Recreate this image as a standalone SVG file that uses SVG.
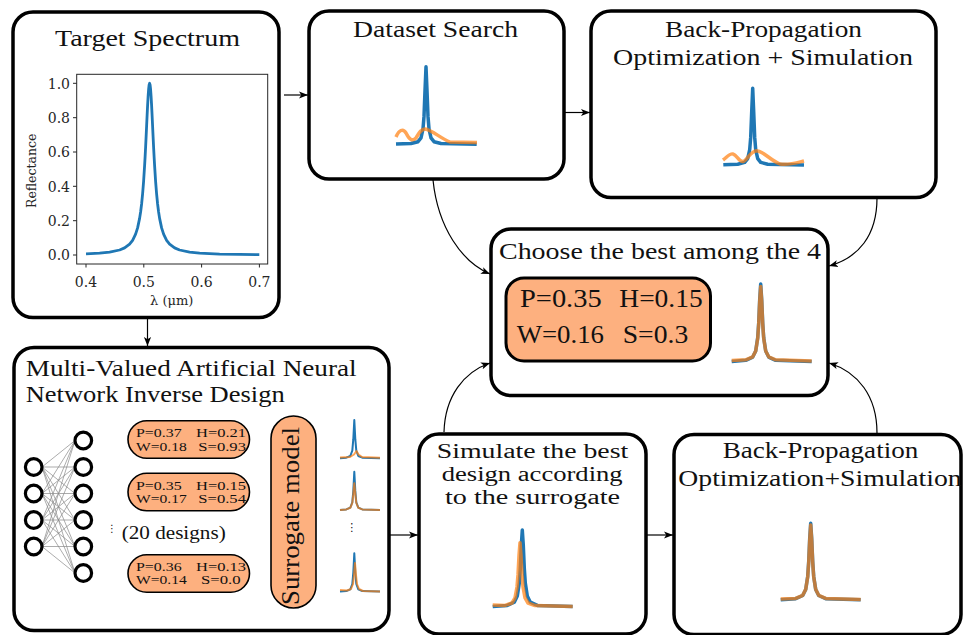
<svg xmlns="http://www.w3.org/2000/svg" width="964" height="635" viewBox="0 0 964 635">
<defs>
<marker id="ah" viewBox="0 0 10 10" refX="10" refY="5" markerWidth="9" markerHeight="9" markerUnits="userSpaceOnUse" orient="auto">
<path d="M0,1 L10,5 L0,9 L2.5,5 z" fill="#000"/>
</marker>
<style>
.box{fill:#fff;stroke:#000;stroke-width:3.5}
.pill{fill:#fdb07f;stroke:#000;stroke-width:1.6}
.t{fill:#111}
.tt{font-size:24px}
.pt{font-size:12px}
.tick{fill:#262626;font-size:14px}
.b{fill:none;stroke:#1f77b4;stroke-width:3.5;stroke-linejoin:round}
.o{fill:none;stroke:#ff7f0e;stroke-opacity:0.7;stroke-width:3.5;stroke-linejoin:round}
.bs{fill:none;stroke:#1f77b4;stroke-width:2;stroke-linejoin:round}
.os{fill:none;stroke:#ff7f0e;stroke-opacity:0.7;stroke-width:2;stroke-linejoin:round}
.c{fill:none;stroke:#000;stroke-width:1.2;marker-end:url(#ah)}
.nn{fill:#fff;stroke:#000;stroke-width:3.2}
</style>
</defs>
<rect width="964" height="635" fill="#fff"/>

<g id="connectors">
<path class="c" d="M284,95 L308,95"/>
<path class="c" d="M565,112.5 L590,112.5"/>
<path class="c" d="M147.5,318 L147.5,346"/>
<path class="c" d="M433,180 C438,228 462,262 490,274"/>
<path class="c" d="M877,198 C877,236 858,258 829,266"/>
<path class="c" d="M444,432 C445,396 464,372 490,363"/>
<path class="c" d="M877,433 C877,396 858,372 829,363"/>
<path class="c" d="M390,535 L418,535"/>
<path class="c" d="M647,535 L673,535"/>
<path class="c" d="M100,440 L127,440"/>
<path class="c" d="M100,492 L127,492"/>
<path class="c" d="M100,573.5 L127,573.5"/>
<path class="c" d="M250,439.5 L270,439.5"/>
<path class="c" d="M250,492 L270,492"/>
<path class="c" d="M250,573.5 L270,573.5"/>
<path class="c" d="M317,439.5 L337,439.5"/>
<path class="c" d="M317,492 L337,492"/>
<path class="c" d="M317,573.5 L337,573.5"/>
</g>

<g id="target-spectrum">
<rect class="box" x="13" y="12" width="266" height="305.5" rx="20"/>
<text class="t tt" font-family="Liberation Serif, Times New Roman, serif" x="55" y="46" textLength="185" lengthAdjust="spacingAndGlyphs">Target Spectrum</text>
<rect x="76.7" y="74.3" width="191" height="189.7" fill="none" stroke="#262626" stroke-width="1"/>
<path d="M73,255H76.7M73,220.7H76.7M73,186.3H76.7M73,152H76.7M73,117.7H76.7M73,83.3H76.7M86,264V267.5M143.8,264V267.5M201.6,264V267.5M259.4,264V267.5" stroke="#262626" stroke-width="1"/>
<g class="tick" font-family="DejaVu Serif, serif" text-anchor="end">
<text x="70" y="260.3">0.0</text>
<text x="70" y="226">0.2</text>
<text x="70" y="191.6">0.4</text>
<text x="70" y="157.3">0.6</text>
<text x="70" y="123">0.8</text>
<text x="70" y="88.6">1.0</text>
</g>
<g class="tick" font-family="DejaVu Serif, serif" text-anchor="middle">
<text x="86" y="286.7">0.4</text>
<text x="143.8" y="286.7">0.5</text>
<text x="201.6" y="286.7">0.6</text>
<text x="259.4" y="286.7">0.7</text>
</g>
<text class="tick" font-family="DejaVu Serif, serif" style="font-size:12.5px" text-anchor="middle" transform="translate(36,170.8) rotate(-90)">Reflectance</text>
<text class="tick" font-family="DejaVu Serif, serif" style="font-size:13px" text-anchor="middle" x="171.7" y="305">λ (μm)</text>
<path d="M86,253.9 L99.6,253.2 L109.6,252.1 L119.6,250 L124.6,247.9 L129.6,244.1 L132.6,240.3 L135.6,234.2 L137.6,227.9 L139.6,218.4 L140.6,212 L141.6,204 L142.6,193.9 L143.6,181.3 L144.6,165.7 L145.1,156.8 L145.6,147.2 L146.1,136.9 L146.6,126.2 L147.1,115.5 L147.6,105.4 L148.1,96.5 L148.6,89.5 L149.1,84.9 L149.6,83.3 L150.1,84.9 L150.6,89.5 L151.1,96.5 L151.6,105.4 L152.1,115.5 L152.6,126.2 L153.1,136.9 L153.6,147.2 L154.1,156.8 L154.6,165.7 L155.6,181.3 L156.6,193.9 L157.6,204 L158.6,212 L159.6,218.4 L161.6,227.9 L163.6,234.2 L166.6,240.3 L169.6,244.1 L174.6,247.9 L179.6,250 L189.6,252.1 L199.6,253.2 L219.6,254.1 L239.6,254.4 L259.3,254.6" fill="none" stroke="#1f77b4" stroke-width="2.8" stroke-linejoin="round"/>
</g>

<g id="dataset-search">
<rect class="box" x="309" y="11" width="255" height="168" rx="20"/>
<text class="t tt" font-family="Liberation Serif, Times New Roman, serif" x="353" y="36.7" textLength="165" lengthAdjust="spacingAndGlyphs">Dataset Search</text>
<path class="b" d="M396,144.1 L411,143.5 L418,141.7 L421,137.9 L423,128.8 L424,116.4 L425,90.6 L426,66.7 L427,90.6 L428,116.4 L429,128.8 L431,137.9 L434,141.7 L441,143.5 L476.7,144.2"/>
<path class="o" d="M396,137 C399,130 403,128 406,133 C409,139 412,142 416,138 C419,133 421,129 425,129 C432,130 440,138 450,142 L477,142.5"/>
</g>

<g id="backprop-top">
<rect class="box" x="591" y="11" width="345" height="186.5" rx="20"/>
<text class="t tt" font-family="Liberation Serif, Times New Roman, serif" x="665" y="37" textLength="197" lengthAdjust="spacingAndGlyphs">Back-Propagation</text>
<text class="t tt" font-family="Liberation Serif, Times New Roman, serif" x="613" y="65" textLength="300" lengthAdjust="spacingAndGlyphs">Optimization + Simulation</text>
<path class="b" d="M723.3,164.8 L737.7,164.2 L744.7,162.4 L747.7,158.6 L749.7,149.7 L750.7,137.4 L751.7,111.9 L752.7,88.3 L753.7,111.9 L754.7,137.4 L755.7,149.7 L757.7,158.6 L760.7,162.4 L767.7,164.2 L804,164.9"/>
<path class="o" d="M723,160 C727,157 730,153 733,154 C737,155 739,162 743,161.5 C747,161 750,151 756.7,150.7 C763,151 770,160 780,164 C788,165.5 796,163 804,161"/>
</g>

<g id="choose-best">
<rect class="box" x="491" y="229" width="337" height="166.5" rx="20"/>
<text class="t tt" font-family="Liberation Serif, Times New Roman, serif" x="499" y="259.3" textLength="322" lengthAdjust="spacingAndGlyphs">Choose the best among the 4</text>
<rect x="506" y="278" width="204.5" height="83" rx="18" fill="#fdb07f" stroke="#000" stroke-width="3"/>
<g class="t" font-family="Liberation Serif, Times New Roman, serif" style="font-size:25px">
<text x="520" y="307.3" textLength="81.7" lengthAdjust="spacingAndGlyphs">P=0.35</text>
<text x="619.3" y="307.3" textLength="83.4" lengthAdjust="spacingAndGlyphs">H=0.15</text>
<text x="516.7" y="342.7" textLength="87.3" lengthAdjust="spacingAndGlyphs">W=0.16</text>
<text x="622.7" y="342.7" textLength="65.6" lengthAdjust="spacingAndGlyphs">S=0.3</text>
</g>
<path class="b" d="M731.7,361.5 L745.7,360.3 L752.7,357.1 L755.7,351 L757.7,337.8 L758.7,322.9 L759.7,299.5 L760.7,284 L761.7,299.5 L762.7,322.9 L763.7,337.8 L765.7,351 L768.7,357.1 L775.7,360.3 L811.7,361.5"/>
<path class="o" d="M731.7,360.5 L745.7,359.8 L752.7,356.8 L755.7,351 L757.7,338.5 L758.7,324 L759.7,301 L760.7,286.5 L761.7,301 L762.7,324 L763.7,338.5 L765.7,351 L768.7,356.8 L775.7,359.8 L811.7,361"/>
</g>

<g id="ann-inverse-design">
<rect class="box" x="14" y="347.5" width="375" height="283" rx="20"/>
<text class="t tt" font-family="Liberation Serif, Times New Roman, serif" x="25.7" y="375.5" textLength="331" lengthAdjust="spacingAndGlyphs">Multi-Valued Artificial Neural</text>
<text class="t tt" font-family="Liberation Serif, Times New Roman, serif" x="25.7" y="402.4" textLength="259" lengthAdjust="spacingAndGlyphs">Network Inverse Design</text>
<path fill="none" stroke="#888" stroke-width="0.7" d="M42,467L75,440.5M42,467L75,467M42,467L75,493.5M42,467L75,520M42,467L75,546.5M42,467L75,573M42,493.5L75,440.5M42,493.5L75,467M42,493.5L75,493.5M42,493.5L75,520M42,493.5L75,546.5M42,493.5L75,573M42,520L75,440.5M42,520L75,467M42,520L75,493.5M42,520L75,520M42,520L75,546.5M42,520L75,573M42,546.5L75,440.5M42,546.5L75,467M42,546.5L75,493.5M42,546.5L75,520M42,546.5L75,546.5M42,546.5L75,573"/>
<g class="nn">
<circle cx="33.7" cy="467" r="8.3"/>
<circle cx="33.7" cy="493.5" r="8.3"/>
<circle cx="33.7" cy="520" r="8.3"/>
<circle cx="33.7" cy="546.5" r="8.3"/>
<circle cx="83.3" cy="440.5" r="8.3"/>
<circle cx="83.3" cy="467" r="8.3"/>
<circle cx="83.3" cy="493.5" r="8.3"/>
<circle cx="83.3" cy="520" r="8.3"/>
<circle cx="83.3" cy="546.5" r="8.3"/>
<circle cx="83.3" cy="573" r="8.3"/>
</g>
<rect class="pill" x="128" y="420.7" width="121.5" height="37.6" rx="18.8"/>
<rect class="pill" x="128" y="473.3" width="121.5" height="37.5" rx="18.75"/>
<rect class="pill" x="128" y="554.8" width="121.5" height="37.5" rx="18.75"/>
<g class="t pt" font-family="Liberation Serif, Times New Roman, serif">
<text x="136" y="437" textLength="45.7" lengthAdjust="spacingAndGlyphs">P=0.37</text>
<text x="196" y="437" textLength="50" lengthAdjust="spacingAndGlyphs">H=0.21</text>
<text x="136" y="450.5" textLength="50.7" lengthAdjust="spacingAndGlyphs">W=0.18</text>
<text x="198.3" y="450.5" textLength="47.7" lengthAdjust="spacingAndGlyphs">S=0.93</text>
<text x="136" y="489.5" textLength="45.7" lengthAdjust="spacingAndGlyphs">P=0.35</text>
<text x="196" y="489.5" textLength="50" lengthAdjust="spacingAndGlyphs">H=0.15</text>
<text x="136" y="503" textLength="50.7" lengthAdjust="spacingAndGlyphs">W=0.17</text>
<text x="198.3" y="503" textLength="47.7" lengthAdjust="spacingAndGlyphs">S=0.54</text>
<text x="136" y="570.5" textLength="45.7" lengthAdjust="spacingAndGlyphs">P=0.36</text>
<text x="196" y="570.5" textLength="50" lengthAdjust="spacingAndGlyphs">H=0.13</text>
<text x="136" y="584" textLength="50.7" lengthAdjust="spacingAndGlyphs">W=0.14</text>
<text x="201" y="584" textLength="39.5" lengthAdjust="spacingAndGlyphs">S=0.0</text>
</g>
<text x="112" y="532" font-family="DejaVu Sans, sans-serif" font-size="10" text-anchor="middle" fill="#111">⋮</text>
<text class="t" font-family="Liberation Serif, Times New Roman, serif" x="121.7" y="539" style="font-size:18px" textLength="104" lengthAdjust="spacingAndGlyphs">(20 designs)</text>
<rect x="271" y="416" width="45" height="192" rx="22.5" fill="#fdb07f" stroke="#000" stroke-width="1.6"/>
<text class="t" font-family="Liberation Serif, Times New Roman, serif" style="font-size:25px" text-anchor="middle" transform="translate(299,516) rotate(-90)" textLength="178" lengthAdjust="spacingAndGlyphs">Surrogate model</text>
<path class="bs" d="M340,458.2 L346.3,457.7 L350.3,456 L352.3,450.6 L353.3,439.2 L354.3,420 L355.3,439.2 L356.3,450.6 L358.3,456 L362.3,457.7 L380,458.2"/>
<path class="os" d="M340,457.5 L350,457 L354,454.5 L356.5,451 L358.5,454.5 L362,457 L380,457.8"/>
<path class="bs" d="M340,509.9 L346.3,509.4 L350.3,507.7 L352.3,502.3 L353.3,490.9 L354.3,471.7 L355.3,490.9 L356.3,502.3 L358.3,507.7 L362.3,509.4 L380,509.9"/>
<path class="os" d="M340,509.9 L346.3,509.4 L350.3,507.8 L352.3,502.9 L353.3,494.2 L354.3,483.3 L355.3,494.2 L356.3,502.9 L358.3,507.8 L362.3,509.4 L380,509.9"/>
<path class="bs" d="M340,591.6 L346.3,591.1 L350.3,589.4 L352.3,584 L353.3,572.6 L354.3,553.3 L355.3,572.6 L356.3,584 L358.3,589.4 L362.3,591.1 L380,591.6"/>
<path class="os" d="M340,590 L347,590.5 L351,589 L353,584 L354,575 L355,563 L356,575 L357,584 L359,589 L363,591 L380,591.5"/>
<text x="351.7" y="530.5" font-family="DejaVu Sans, sans-serif" font-size="11" text-anchor="middle" fill="#111">⋮</text>
</g>

<g id="simulate-best">
<rect class="box" x="419" y="434" width="227" height="200" rx="20"/>
<g class="t" font-family="Liberation Serif, Times New Roman, serif" style="font-size:20px">
<text x="436.7" y="458" textLength="191.6" lengthAdjust="spacingAndGlyphs">Simulate the best</text>
<text x="441.7" y="481" textLength="181" lengthAdjust="spacingAndGlyphs">design according</text>
<text x="445" y="504" textLength="175" lengthAdjust="spacingAndGlyphs">to the surrogate</text>
</g>
<path class="b" d="M492.7,606.5 L507.3,605.4 L514.3,602.2 L517.3,596.1 L519.3,583.1 L520.3,568.3 L521.3,545.3 L522.3,530 L523.3,545.3 L524.3,568.3 L525.3,583.1 L527.3,596.1 L530.3,602.2 L537.3,605.4 L572.7,606.5"/>
<path class="o" d="M492.7,605 L505,605.4 L512,603 L515,597.9 L517,587 L518,574.7 L519,555.5 L520,542.7 L521,555.5 L522,574.7 L523,587 L525,597.9 L528,603 L535,605.6 L572.7,606.5"/>
</g>

<g id="backprop-bottom">
<rect class="box" x="674" y="434.5" width="287" height="200" rx="20"/>
<text class="t tt" font-family="Liberation Serif, Times New Roman, serif" x="722.7" y="458" textLength="195.6" lengthAdjust="spacingAndGlyphs">Back-Propagation</text>
<text class="t tt" font-family="Liberation Serif, Times New Roman, serif" x="678.3" y="486" textLength="283.4" lengthAdjust="spacingAndGlyphs">Optimization+Simulation</text>
<path class="b" d="M780.7,599.8 L795.7,598.7 L802.7,595.5 L805.7,589.4 L807.7,576.4 L808.7,561.6 L809.7,538.6 L810.7,523.3 L811.7,538.6 L812.7,561.6 L813.7,576.4 L815.7,589.4 L818.7,595.5 L825.7,598.7 L860.7,599.8"/>
<path class="o" d="M780.7,599 L795.7,598.4 L802.7,595.3 L805.7,589.4 L807.7,577 L808.7,562.5 L809.7,540 L810.7,525 L811.7,540 L812.7,562.5 L813.7,577 L815.7,589.4 L818.7,595.3 L825.7,598.4 L860.7,599.6"/>
</g>
</svg>
